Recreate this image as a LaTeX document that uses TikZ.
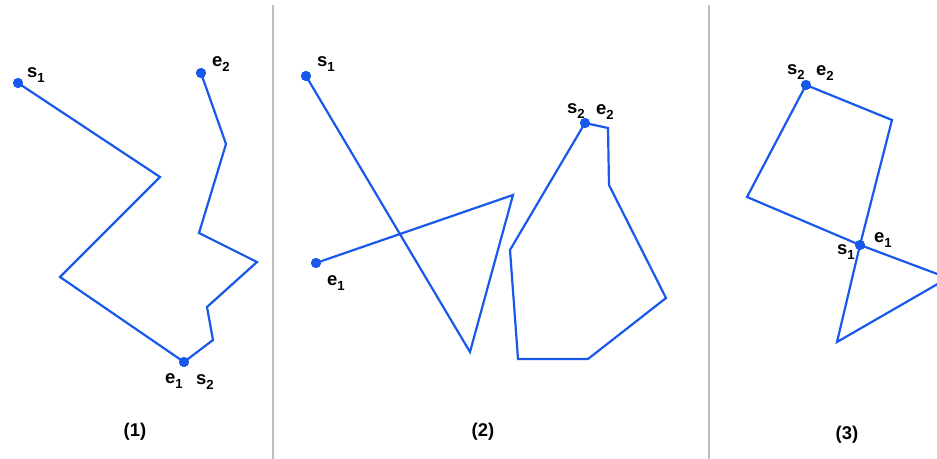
\documentclass[tikz,border=0pt]{standalone}
\usepackage{fontspec}
\setmainfont{Liberation Sans}
\definecolor{pathblue}{RGB}{24,88,235}
\newcommand{\lowsub}[1]{\raisebox{-0.5ex}{\fontsize{7.5}{8}\selectfont #1}}

\begin{document}
\begin{tikzpicture}[
    x=0.02cm, y=-0.02cm,
    every node/.style={font=\fontsize{10.5}{12}\selectfont\bfseries},
    endDot/.style={
        circle,
        fill=pathblue,
        inner sep=0pt,
        minimum size=0.2cm
    },
    route/.style={draw=pathblue, line width=1.25pt, line join=miter},
    divider/.style={draw=black!25, line width=1.1pt}
]
\useasboundingbox (0,0) rectangle (937,459);
\clip (0,0) rectangle (937,459);

% dividers
\coordinate (d1top) at (273,5);
\coordinate (d1bot) at (273,459);
\coordinate (d2top) at (709,5);
\coordinate (d2bot) at (709,459);
\draw[divider] (d1top) -- (d1bot);
\draw[divider] (d2top) -- (d2bot);

% case (1)
\coordinate (a1) at (160,177);
\coordinate (a2) at (60,277);
\coordinate (a3) at (213,340);
\coordinate (a4) at (207,307);
\coordinate (a5) at (257,262);
\coordinate (a6) at (199,233);
\coordinate (a7) at (226,144);
\node[endDot] (oneS) at (18,83) {};
\node[endDot] (oneM) at (184,362) {};
\node[endDot] (oneE) at (201,73) {};
\draw[route] (oneS.center) -- (a1) -- (a2) -- (oneM.center);
\draw[route] (oneM.center) -- (a3) -- (a4) -- (a5) -- (a6) -- (a7) -- (oneE.center);
\node[endDot] at (oneS) {};
\node[endDot] at (oneM) {};
\node[endDot] at (oneE) {};
\node (oneSLab) at (36,75) {s\lowsub{1}};
\node (oneELab) at (221,64) {e\lowsub{2}};
\node (oneMLabA) at (174,381) {e\lowsub{1}};
\node (oneMLabB) at (205,382) {s\lowsub{2}};
\node (capOne) at (135,432) {(1)};

% case (2)
\coordinate (b1) at (470,352);
\coordinate (b2) at (513,195);
\coordinate (c1) at (608,128);
\coordinate (c2) at (609,185);
\coordinate (c3) at (666,298);
\coordinate (c4) at (588,359);
\coordinate (c5) at (518,359);
\coordinate (c6) at (510,250);
\node[endDot] (twoS) at (306,76) {};
\node[endDot] (twoE) at (316,263) {};
\node[endDot] (twoM) at (585,123) {};
\draw[route] (twoS.center) -- (b1) -- (b2) -- (twoE.center);
\draw[route] (twoM.center) -- (c1) -- (c2) -- (c3) -- (c4) -- (c5) -- (c6) -- (twoM.center);
\node[endDot] at (twoS) {};
\node[endDot] at (twoE) {};
\node[endDot] at (twoM) {};
\node (twoSLab) at (326,64) {s\lowsub{1}};
\node (twoELab) at (336,283) {e\lowsub{1}};
\node (twoMLabA) at (576,111) {s\lowsub{2}};
\node (twoMLabB) at (605,112) {e\lowsub{2}};
\node (capTwo) at (483,432) {(2)};

% case (3)
\coordinate (f1) at (837,342);
\coordinate (f2) at (948,278);
\coordinate (g1) at (747,197);
\coordinate (g2) at (892,120);
\node[endDot] (threeM) at (860,245) {};
\node[endDot] (threeT) at (806,85) {};
\draw[route] (threeM.center) -- (f1) -- (f2) -- (threeM.center);
\draw[route] (threeM.center) -- (g1) -- (threeT.center) -- (g2) -- (threeM.center);
\node[endDot] at (threeM) {};
\node[endDot] at (threeT) {};
\node (threeTLabA) at (796,72) {s\lowsub{2}};
\node (threeTLabB) at (825,73) {e\lowsub{2}};
\node (threeMLabA) at (883,240) {e\lowsub{1}};
\node (threeMLabB) at (846,252) {s\lowsub{1}};
\node (capThree) at (847,435) {(3)};

\end{tikzpicture}
\end{document}
